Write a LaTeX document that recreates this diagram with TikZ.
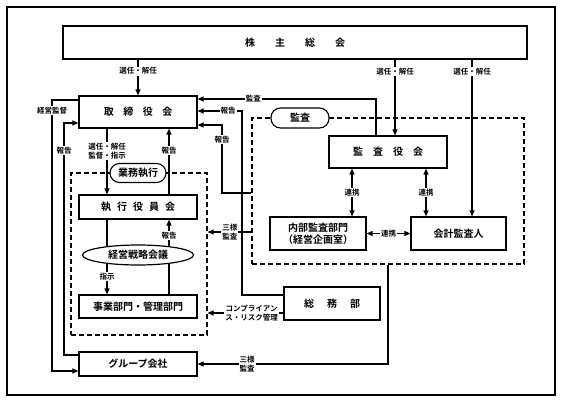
\documentclass[tikz,border=0pt]{standalone}
\usepackage{fontspec}
\setmainfont{Noto Sans CJK JP}[BoldFont={Noto Sans CJK JP Bold}]
\usetikzlibrary{arrows.meta,shapes.geometric,backgrounds}
\begin{document}
\begin{tikzpicture}[x=1pt,y=-1pt,
  box/.style={draw,line width=1.2pt,fill=white,rectangle,inner sep=0pt,font=\fontsize{10}{12}\selectfont\bfseries,align=center},
  lbl/.style={fill=white,inner sep=1pt,font=\fontsize{7.5}{8.5}\selectfont\bfseries,align=center},
  conn/.style={line width=1.1pt},
  arr/.style={conn,-{Triangle[length=6pt,width=5pt]}},
  darr/.style={conn,{Triangle[length=6pt,width=5pt]}-{Triangle[length=6pt,width=5pt]}},
  area/.style={draw,dash pattern=on 5pt off 3pt,line width=1.1pt,inner sep=0pt},
  pill/.style={draw,fill=white,line width=1.1pt,rounded corners=9.5pt,inner sep=0pt,font=\fontsize{10}{12}\selectfont\bfseries}
]
\useasboundingbox (0,0) rectangle (561,401);
\draw[line width=1.3pt] (7,7) rectangle (555,395);

% dashed areas
\node[area,minimum width=136pt,minimum height=162pt] (garea) at (139,254) {};
\node[area,minimum width=272pt,minimum height=146pt] (karea) at (388,191) {};
\node[pill,minimum width=56pt,minimum height=19pt] (gpill) at (138,173) {業務執行};
\node[pill,minimum width=58pt,minimum height=20pt] (kpill) at (300,118) {監査};

% boxes
\node[box,minimum width=464pt,minimum height=33pt] (kabu) at (295,42.5) {株\hspace{20pt}主\hspace{20pt}総\hspace{20pt}会};
\node[box,minimum width=118pt,minimum height=32pt] (tori) at (138,112) {取\hspace{9.5pt}締\hspace{9.5pt}役\hspace{9.5pt}会};
\node[box,minimum width=118pt,minimum height=32pt] (kansa) at (388,152) {監\hspace{10pt}査\hspace{10pt}役\hspace{10pt}会};
\node[box,minimum width=118pt,minimum height=24pt] (shikkou) at (138,207) {執\hspace{6pt}行\hspace{6pt}役\hspace{6pt}員\hspace{6pt}会};
\node[box,ellipse,minimum width=111pt,minimum height=20pt] (senryaku) at (138,255) {経営戦略会議};
\node[box,minimum width=118pt,minimum height=23pt] (jigyou) at (138,306.5) {事業部門・管理部門};
\node[box,minimum width=118pt,minimum height=24pt] (group) at (138,364) {グループ会社};
\node[box,minimum width=96pt,minimum height=33pt] (soumu) at (332,303.5) {総\hspace{13pt}務\hspace{13pt}部};
\node[box,minimum width=96pt,minimum height=33pt,font=\fontsize{10}{11.5}\selectfont\bfseries] (naibu) at (318,233.5) {内部監査部門\\（経営企画室）};
\node[box,minimum width=95pt,minimum height=33pt] (kaikei) at (458.5,233.5) {会計監査人};

% guides
\coordinate (v395) at (395,0);
\coordinate (v472) at (472,0);
\coordinate (v376) at (376,0);
\coordinate (v242) at (242,0);
\coordinate (v222) at (222,0);
\coordinate (v52) at (52,0);
\coordinate (v64) at (64,0);
\coordinate (v107) at (107,0);
\coordinate (v169) at (169,0);
\coordinate (v352) at (352,0);
\coordinate (v426) at (426,0);
\coordinate (h99) at (0,99);
\coordinate (h111) at (0,111);
\coordinate (h125) at (0,125);
\coordinate (h193) at (0,193);
\coordinate (h232) at (0,232);
\coordinate (h313) at (0,313);
\coordinate (h364) at (0,364);
\coordinate (h100) at (0,100);
\coordinate (h371) at (0,371);
\coordinate (h355) at (0,355);
\coordinate (h123) at (0,123);
\coordinate (h295) at (0,295);

\begin{scope}[on background layer]
\draw[arr] (kabu.south -| tori.north) -- node[lbl,pos=0.32]{選任・解任} (tori.north);
\draw[arr] (kabu.south -| v395) -- node[lbl,pos=0.16]{選任・解任} (kansa.north -| v395);
\draw[arr] (kabu.south -| v472) -- node[lbl,pos=0.076]{選任・解任} (kaikei.north -| v472);
\draw[arr] (kansa.north -| v376) -- (v376 |- h99) -- node[lbl,pos=0.687]{監査} (tori.east |- h99);
\draw[arr] (soumu.west |- h295) -- (v242 |- h295) -- (v242 |- h111) -- node[lbl,pos=0.31]{報告} (tori.east |- h111);
\draw[arr] (karea.west |- h193) -- (v222 |- h193) -- node[lbl,pos=0.78]{報告} (v222 |- h125) -- (tori.east |- h125);
\draw[arr] (karea.west |- h232) -- node[lbl,pos=0.49]{三様\\監査} (garea.east |- h232);
\draw[arr] (soumu.west |- h313) -- node[lbl,pos=0.42]{コンプライアン\\ス・リスク管理} (garea.east |- h313);
\draw[arr] (karea.south) -- (karea.south |- h364) -- node[lbl,pos=0.74]{三様\\監査} (group.east);
\draw[arr] (tori.west |- h100) -- (v52 |- h100) -- node[lbl,pos=0.04]{経営監督} (v52 |- h371) -- (group.west |- h371);
\draw[arr] (group.west |- h355) -- (v64 |- h355) -- node[lbl,pos=0.88]{報告} (v64 |- h123) -- (tori.west |- h123);
\draw[arr] (tori.south -| v107) -- node[lbl,pos=0.34]{選任・解任\\監督・指示} (shikkou.north -| v107);
\draw[arr] (shikkou.north -| v169) -- node[lbl,pos=0.67]{報告} (tori.south -| v169);
\draw[conn] (shikkou.south -| v107) -- (senryaku.center -| v107);
\draw[arr] (senryaku.center -| v169) -- node[lbl,pos=0.56]{報告} (shikkou.south -| v169);
\draw[arr] (senryaku.center -| v107) -- node[lbl,pos=0.55]{指示} (jigyou.north -| v107);
\draw[conn] (senryaku.center -| v169) -- (jigyou.north -| v169);
\draw[darr] (kansa.south -| v352) -- node[lbl]{連携} (naibu.north -| v352);
\draw[darr] (kansa.south -| v426) -- node[lbl]{連携} (kaikei.north -| v426);
\draw[darr] (naibu.east) -- node[lbl]{連携} (kaikei.west);
\end{scope}
\end{tikzpicture}
\end{document}
